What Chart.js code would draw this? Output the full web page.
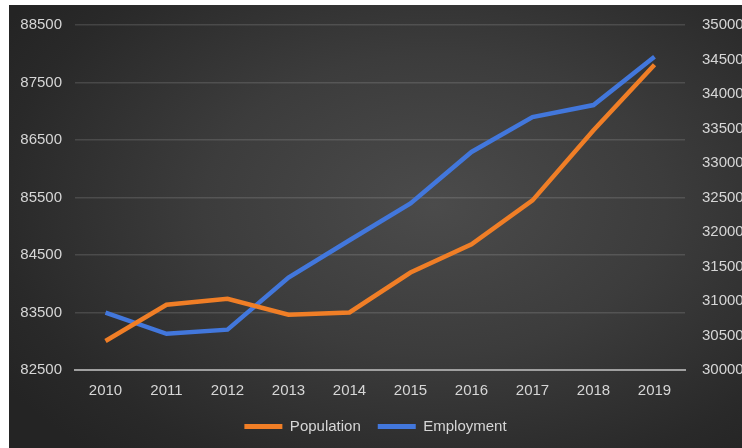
<!DOCTYPE html>
<html>
<head>
<meta charset="utf-8">
<script src="https://cdn.jsdelivr.net/npm/chart.js@4/dist/chart.umd.min.js"></script>
<style>
  html, body { margin: 0; padding: 0; background: #fff; }
  #wrap {
    position: absolute; left: 9px; top: 5px; width: 733px; height: 443px;
    background: radial-gradient(ellipse 70% 75% at 58% 45%, #4b4b4b 0%, #3c3c3c 45%, #292929 85%, #242424 100%);
  }
</style>
</head>
<body>
<div id="wrap"><canvas id="myChart" width="733" height="443"></canvas></div>
<script>
// values
const years = ['2010', '2011', '2012', '2013', '2014', '2015', '2016', '2017', '2018', '2019'];
const population = [83005, 83635, 83740, 83460, 83500, 84195, 84685, 85450, 86670, 87810];
const employment = [30830, 30525, 30585, 31340, 31880, 32415, 33160, 33665, 33840, 34540];
const leftTicks = [82500, 83500, 84500, 85500, 86500, 87500, 88500];
const rightTicks = [30000, 30500, 31000, 31500, 32000, 32500, 33000, 33500, 34000, 34500, 35000];

Chart.defaults.font.family = "'Liberation Sans', Arial, sans-serif";
Chart.defaults.font.size = 15;
Chart.defaults.color = '#d6d6d6';

// fixed axis widths, and don't let tick padding push the plot down
function fitAxis(width) {
  return axis => {
    axis.width = width;
    axis.paddingTop = 9;
    axis.paddingBottom = 9;
  };
}

const ctx = document.getElementById('myChart').getContext('2d');
const myChart = new Chart(ctx, {
  type: 'line',
  data: {
    labels: years,
    datasets: [{
      label: 'Population',
      data: population,
      yAxisID: 'y',
      borderColor: '#f07e26',
      backgroundColor: '#f07e26',
      borderWidth: 4.5,
      pointRadius: 0,
      tension: 0
    }, {
      label: 'Employment',
      data: employment,
      yAxisID: 'y1',
      borderColor: '#4277dc',
      backgroundColor: '#4277dc',
      borderWidth: 4.5,
      pointRadius: 0,
      tension: 0
    }]
  },
  options: {
    responsive: false,
    animation: false,
    layout: { padding: { top: 20, left: 0, right: 0, bottom: 4 } },
    plugins: {
      tooltip: { enabled: false },
      legend: {
        position: 'bottom',
        labels: {
          boxWidth: 38,
          boxHeight: 5,
          padding: 17,
          generateLabels: chart => Chart.defaults.plugins.legend.labels.generateLabels(chart)
            .map(l => ({ ...l, lineWidth: 0 }))
        }
      }
    },
    scales: {
      x: {
        offset: true,
        grid: { display: false, drawTicks: false },
        border: { display: true, color: '#a0a0a0', width: 2 },
        ticks: { padding: 12, maxRotation: 0 },
        afterFit: axis => { axis.height = 32; }
      },
      y: {
        position: 'left',
        min: leftTicks[0],
        max: leftTicks[leftTicks.length - 1],
        afterBuildTicks: axis => { axis.ticks = leftTicks.map(v => ({ value: v })); },
        afterFit: fitAxis(66),
        grid: { color: 'rgba(255,255,255,0.13)', lineWidth: 1.5, drawTicks: false },
        border: { display: false },
        ticks: { padding: 13, callback: v => String(v) }
      },
      y1: {
        position: 'right',
        min: rightTicks[0],
        max: rightTicks[rightTicks.length - 1],
        afterBuildTicks: axis => { axis.ticks = rightTicks.map(v => ({ value: v })); },
        afterFit: fitAxis(57),
        grid: { display: false, drawTicks: false },
        border: { display: false },
        ticks: { padding: 17, callback: v => String(v) }
      }
    }
  }
});
</script>
</body>
</html>
